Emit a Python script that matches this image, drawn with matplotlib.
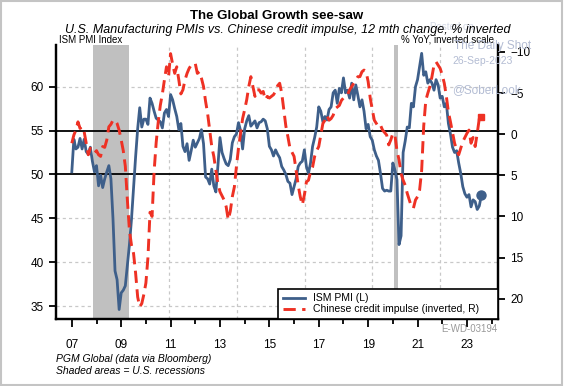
#!/usr/bin/env python3
# seesaw.py - ISM PMI vs Chinese credit impulse (inverted)

import numpy as np
import matplotlib
matplotlib.use("Agg")
import matplotlib.pyplot as plt
from matplotlib.lines import Line2D
from matplotlib.patches import Rectangle

plt.rcParams['font.family'] = ['Liberation Sans', 'DejaVu Sans']

START_YEAR = 2007

# ISM manufacturing PMI, monthly from Jan 2007 (one row per year)
ism_pmi = [
    50.3, 54.0, 52.9, 53.1, 54.1, 52.9, 54.0, 52.6, 52.3, 53.1, 51.5, 50.3,  # 2007
    51.0, 48.7, 49.9, 48.5, 49.5, 50.3, 51.0, 49.5, 45.0, 39.0, 38.0, 34.6,  # 2008
    36.5, 36.8, 37.3, 39.6, 42.0, 44.9, 48.5, 52.0, 55.2, 57.6, 55.4, 56.3,  # 2009
    56.3, 55.7, 58.7, 58.1, 57.2, 56.4, 56.2, 56.0, 55.3, 57.0, 57.4, 56.6,  # 2010
    59.1, 58.5, 57.5, 56.6, 55.1, 55.8, 53.2, 52.6, 53.5, 51.6, 52.7, 53.9,  # 2011
    53.1, 53.6, 54.1, 55.1, 53.5, 49.7, 49.5, 48.9, 50.6, 48.7, 48.0, 51.0,  # 2012
    54.2, 52.5, 51.8, 51.2, 51.0, 51.7, 53.6, 54.3, 54.6, 55.9, 55.0, 52.9,  # 2013
    55.2, 56.1, 56.7, 55.5, 55.8, 56.1, 55.3, 55.9, 56.0, 56.3, 56.1, 55.2,  # 2014
    53.2, 52.8, 52.1, 52.8, 52.3, 51.9, 50.9, 50.5, 50.0, 49.2, 49.0, 47.7,  # 2015
    48.6, 49.5, 50.9, 51.3, 51.5, 52.8, 50.9, 50.1, 51.3, 53.2, 54.2, 55.4,  # 2016
    57.7, 57.2, 56.0, 56.6, 56.2, 57.4, 57.7, 59.3, 59.6, 58.1, 59.8, 59.3,  # 2017
    61.0, 59.3, 59.6, 58.7, 60.4, 58.5, 60.2, 59.0, 57.7, 58.5, 57.2, 55.2,  # 2018
    55.7, 54.3, 53.9, 52.8, 52.1, 51.6, 50.1, 48.4, 48.1, 48.2, 48.1, 48.1,  # 2019
    51.3, 50.5, 49.4, 42.0, 43.0, 52.5, 53.8, 55.4, 55.3, 58.1, 57.7, 60.0,  # 2020
    60.8, 62.3, 63.8, 61.3, 61.7, 60.4, 60.8, 60.4, 59.6, 60.8, 60.2, 58.7,  # 2021
    58.9, 57.7, 58.1, 55.8, 54.6, 53.1, 52.5, 52.7, 51.3, 50.1, 48.6, 47.8,  # 2022
    47.4, 47.7, 46.3, 47.1, 46.9, 46.0, 46.4, 47.6,                          # 2023
]

# Chinese credit impulse, 12m change, % (plotted on inverted right axis)
credit_impulse = [
    1.1, 0.1, -0.5, -1.5, -0.7, -0.9, -0.3, 1.1, 2.5, 1.7, 2.0, 2.3,          # 2007
    2.0, 2.5, 2.7, 1.5, 1.6, 0.7, -0.9, -1.2, -1.7, -1.7, -1.3, -0.5,        # 2008
    0.7, 2.0, 3.9, 8.0, 11.7, 13.5, 14.5, 16.9, 19.8, 21.0, 20.6, 19.5,      # 2009
    18.1, 15.0, 9.5, 10.0, 4.5, 1.0, -1.5, -3.5, -4.9, -6.6, -8.2, -7.0,     # 2010
    -9.8, -8.5, -7.4, -8.2, -6.6, -4.9, -5.4, -6.6, -7.4, -8.0, -8.4, -8.6,  # 2011
    -8.6, -7.4, -7.6, -6.8, -5.8, -4.0, -2.5, -0.5, 1.5, 2.7, 4.4, 6.0,      # 2012
    7.0, 7.5, 8.0, 8.8, 10.4, 9.4, 7.6, 6.4, 3.9, 1.7, -0.1, -1.9,           # 2013
    -3.0, -4.2, -5.8, -7.0, -5.8, -4.6, -5.4, -5.4, -5.0, -5.2, -4.2, -4.6,  # 2014
    -4.4, -4.6, -4.8, -5.2, -5.9, -6.2, -5.0, -3.0, -1.0, 0.3, 1.7, 2.2,     # 2015
    2.7, 4.4, 6.2, 7.6, 8.6, 7.4, 5.8, 5.6, 4.6, 4.0, 2.7, 2.0,              # 2016
    1.5, 0.1, -1.3, -1.7, -2.3, -1.7, -1.9, -2.3, -3.1, -3.3, -3.5, -4.1,    # 2017
    -4.4, -4.6, -4.8, -5.4, -5.8, -6.2, -6.6, -7.0, -7.0, -7.6, -7.8, -7.6,  # 2018
    -6.4, -4.4, -3.0, -1.7, -1.3, -0.9, -1.1, -0.5, -0.2, 0.1, 1.3, 0.7,     # 2019
    -0.1, 0.1, 2.0, 3.1, 4.8, 5.6, 6.2, 7.2, 8.0, 8.8, 9.0, 8.0,             # 2020
    7.6, 6.8, 4.4, -1.0, -4.1, -5.0, -5.8, -7.0, -8.4, -8.8, -8.4, -8.0,     # 2021
    -7.2, -6.2, -4.6, -2.7, -1.5, -0.2, 1.1, 1.9, 2.5, 1.7, 0.9, 0.4,        # 2022
    -0.1, -0.5, 1.1, 0.4, 1.5, -0.1, -1.9, -2.1,                             # 2023
]

# US recessions (decimal years)
recessions = [(2007.87, 2009.32), (2020.05, 2020.21)]

year_ticks = list(range(2007, 2025))
left_ticks = [35, 40, 45, 50, 55, 60]
right_ticks = [-10, -5, 0, 5, 10, 15, 20]

BLUE = '#3e5f8a'
RED = '#ee3124'
GRID = '#c8c8c8'
WM = '#b3bcd3'
RED_DASH = (0, (4.2, 2.2))


def month_positions(n):
    return START_YEAR + np.arange(n) / 12.0


def main():
    fig = plt.figure(figsize=(5.64, 3.86), dpi=100)
    fig.patch.set_facecolor('white')
    ax = fig.add_axes([0.0993, 0.1736, 0.7842, 0.7098])
    ax2 = ax.twinx()

    x_pmi = month_positions(len(ism_pmi))
    x_ci = month_positions(len(credit_impulse))

    ax.set_xlim(2006.36, 2024.27)
    ax.set_ylim(33.52, 64.75)
    ax2.set_ylim(22.48, -10.85)

    # grid: horizontal dashed at left ticks, vertical dashed every ~2.74y
    for v in [35, 40, 45, 60]:
        ax.axhline(v, color=GRID, lw=0.9, ls=(0, (2.5, 2.5)), zorder=0)
    for gx in [2008.19, 2010.94, 2013.69, 2016.44, 2019.16, 2021.91]:
        ax.axvline(gx, color=GRID, lw=0.9, ls=(0, (2.5, 2.5)), zorder=0)

    for a, b in recessions:
        ax.axvspan(a, b, color='#c0c0c0', lw=0, zorder=1)

    ax.axhline(55, color='black', lw=1.3, zorder=2)
    ax.axhline(50, color='black', lw=1.3, zorder=2)

    ax.plot(x_pmi, ism_pmi, color=BLUE, lw=2.0, zorder=3,
            solid_joinstyle='round')
    ax.plot(x_pmi[-1], ism_pmi[-1], 'o', color=BLUE, ms=6.5, zorder=4)

    ax2.plot(x_ci, credit_impulse, color=RED, lw=2.1, ls=RED_DASH, zorder=3)
    ax2.plot(x_ci[-1], credit_impulse[-1], 's', color=RED, ms=5, zorder=4)

    # axes styling
    ax.spines['top'].set_visible(False)
    ax2.spines['top'].set_visible(False)
    for a in (ax, ax2):
        for sp in ['left', 'bottom', 'right']:
            a.spines[sp].set_linewidth(1.6)
    ax.set_xticks([y for y in year_ticks if y % 2 == 1])
    ax.set_xticklabels([f"{y % 100:02d}" for y in year_ticks if y % 2 == 1])
    ax.set_xticks([y for y in year_ticks if y % 2 == 0], minor=True)
    ax.tick_params(axis='x', which='major', length=5.5, width=1.3, pad=9,
                   labelsize=8.5)
    ax.tick_params(axis='x', which='minor', length=3.5, width=1.3)
    ax.set_yticks(left_ticks)
    ax.tick_params(axis='y', length=5, width=1.3, pad=4, labelsize=8.5)
    ax2.set_yticks(right_ticks)
    ax2.tick_params(axis='y', length=5, width=1.3, pad=3.5, labelsize=8.5)

    handles = [Line2D([], [], color=BLUE, lw=2.0),
               Line2D([], [], color=RED, lw=2.1, ls=RED_DASH)]
    leg = ax2.legend(handles, ['ISM PMI (L)', 'Chinese credit impulse (inverted, R)'],
                     loc='lower left', bbox_to_anchor=(0.502, 0.0, 0.498, 0.1215),
                     mode='expand', borderaxespad=0, fontsize=7.5,
                     handlelength=2.1, handletextpad=0.85, labelspacing=0.1,
                     borderpad=0.45, fancybox=False, framealpha=1,
                     edgecolor='black')
    leg.get_frame().set_linewidth(1.2)

    # texts
    W, H = 564.0, 386.0

    def ftext(px, py, s, **kw):
        fig.text(px / W, 1 - py / H, s, **kw)

    ftext(277, 16, 'The Global Growth see-saw', ha='center', va='center',
          fontsize=9.5, fontweight='bold')
    ftext(288, 29.5, 'U.S. Manufacturing PMIs vs. Chinese credit impulse, '
          '12 mth change, % inverted', ha='center', va='center',
          fontsize=9, style='italic')
    ftext(59, 40, 'ISM PMI Index', ha='left', va='center', fontsize=7)
    ftext(494, 40, '% YoY, inverted scale', ha='right', va='center', fontsize=7)

    ftext(430, 27, 'Posted on', ha='left', va='center', fontsize=7,
          color='#d4d9e6', zorder=0)
    ftext(454, 46, 'The Daily Shot', ha='left', va='center', fontsize=8.5,
          color=WM)
    ftext(452, 61, '26-Sep-2023', ha='left', va='center', fontsize=7.5,
          color=WM)
    ftext(452, 90, '@SoberLook', ha='left', va='center', fontsize=8.5,
          color=WM)

    ftext(497, 329, 'E-WD-03194', ha='right', va='center', fontsize=7,
          color='#999999')
    ftext(56, 359, 'PGM Global (data via Bloomberg)', ha='left', va='center',
          fontsize=7.5, style='italic')
    ftext(56, 371, 'Shaded areas = U.S. recessions', ha='left', va='center',
          fontsize=7.5, style='italic')

    fig.patches.append(Rectangle((0.002, 0.003), 0.995, 0.994,
                                 transform=fig.transFigure, fill=False,
                                 edgecolor='#c4c4c4', lw=1.5))

    fig.savefig('out.png', dpi=100)


if __name__ == "__main__":
    main()
